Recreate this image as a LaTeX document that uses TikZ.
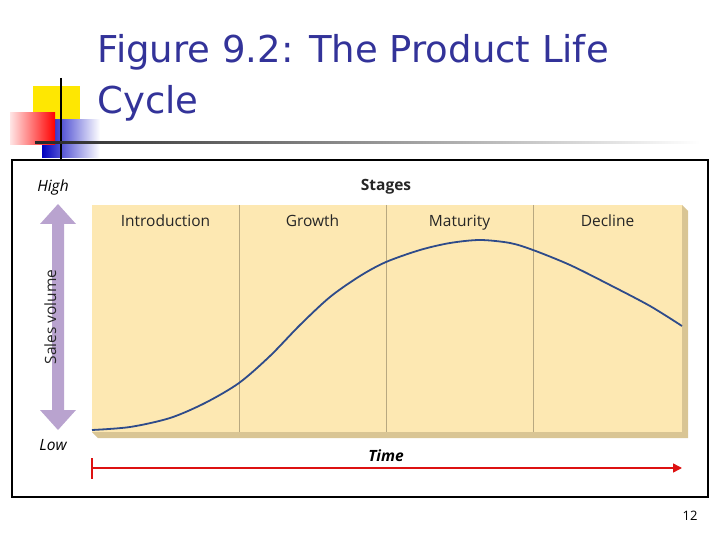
\documentclass[tikz,border=0pt]{standalone}
\usepackage{fontspec}
\setmainfont{Open Sans}
\newfontfamily\titlefont{DejaVu Sans}
\usetikzlibrary{arrows.meta}
\definecolor{titleblue}{HTML}{333399}
\definecolor{panel}{HTML}{FDE8B2}
\definecolor{shadowc}{HTML}{D9C594}
\definecolor{divc}{HTML}{B8A880}
\definecolor{curvec}{HTML}{2E4B8A}
\definecolor{purp}{HTML}{B9A3CF}
\definecolor{redc}{HTML}{DD1111}
\tikzset{lbl/.style={font=\fontsize{15.5}{18}\selectfont,text=black!85,text height=11pt,text depth=3pt},
  axl/.style={font=\fontsize{15.5}{18}\selectfont\itshape,text=black}}
\begin{document}
\begin{tikzpicture}[x=1pt,y=-1pt]
\useasboundingbox (0,0) rectangle (720,540);
% decoration
\fill[yellow!90!orange] (33,86) rectangle (80,130);
\shade[left color=blue!75!black, right color=white] (42,120) rectangle (100,158);
\shade[left color=red!10, right color=red] (10,113) rectangle (55,145);
\draw[line width=1.5pt] (61,78) -- (61,160);
\shade[left color=black!85, right color=white] (35,141.5) rectangle (700,143.5);
\node[anchor=west,text=titleblue,font=\titlefont\fontsize{37}{42}\selectfont] (t1) at (94,52) {Figure 9.2: The Product Life};
\node[anchor=west,text=titleblue,font=\titlefont\fontsize{37}{42}\selectfont] (t2) at (94,103) {Cycle};
% frame
\draw[line width=1.5pt] (12,160) rectangle (708,497);
% panel
\fill[shadowc] (92,432) -- (98,438) -- (688,438) -- (688,211) -- (682,205) -- (682,432) -- cycle;
\fill[panel] (92,205) rectangle (682,432);
\foreach \x in {239,386,533} \draw[divc,line width=0.8pt] (\x,205) -- (\x,432);
\node[lbl] (s1) at (165.5,222) {Introduction};
\node[lbl] (s2) at (312.5,222) {Growth};
\node[lbl] (s3) at (459.5,222) {Maturity};
\node[lbl] (s4) at (607.5,222) {Decline};
\node[lbl,font=\fontsize{15.5}{18}\selectfont\bfseries] (st) at (386,187) {Stages};
\draw[curvec,line width=1.8pt] plot[smooth,tension=0.5] coordinates {(92,430) (130,427) (170,418) (205,403) (239,383) (270,356) (300,325) (330,297) (360,276) (386,262) (420,250) (450,243) (480,240) (510,243) (533,250) (570,265) (610,285) (650,306) (682,326)};
% vertical axis
\node[axl] (hi) at (53,187) {High};
\node[axl] (lo) at (53,445) {Low};
\fill[purp] (58,204) -- (76,224) -- (64,224) -- (64,410) -- (76,410) -- (58,430) -- (40,410) -- (52,410) -- (52,224) -- (40,224) -- cycle;
\node[lbl,rotate=90] (sv) at (52,317) {Sales volume};
% time
\node[axl,font=\fontsize{15.5}{18}\selectfont\itshape\bfseries] (tm) at (386,456) {Time};
\coordinate (ta) at (92,468);
\coordinate (tb) at (682,468);
\draw[redc,line width=1.5pt,-{Triangle[length=9pt,width=9pt]}] (ta) -- (tb);
\draw[redc,line width=1.5pt] (92,458) -- (92,479);
\node[font=\fontsize{13}{15}\selectfont] (pg) at (690,516) {12};
\end{tikzpicture}
\end{document}
